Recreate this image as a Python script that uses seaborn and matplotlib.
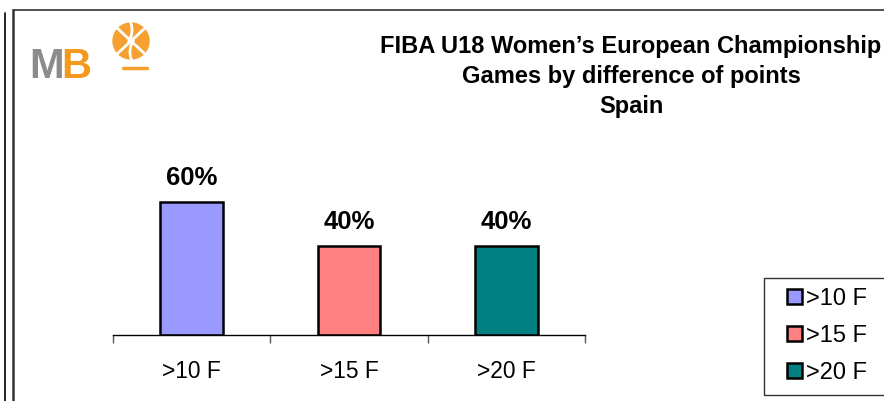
import matplotlib
matplotlib.use("Agg")
import matplotlib.pyplot as plt
import seaborn as sns
import pandas as pd
from matplotlib.lines import Line2D
from matplotlib.patches import Circle, Arc, Rectangle

# datos
categorias = [">10 F", ">15 F", ">20 F"]
valores = [0.60, 0.40, 0.40]
etiquetas = ["60%", "40%", "40%"]
colores = ["#9999ff", "#ff8080", "#008080"]
titulo = "FIBA U18 Women\u2019s European Championship\nGames by difference of points\nSpain"

sns.set_theme(style="white")
plt.rcParams["font.family"] = ["Liberation Sans", "DejaVu Sans"]
plt.rcParams["text.color"] = "black"
plt.rcParams["xtick.color"] = "black"
plt.rcParams["axes.labelcolor"] = "black"

W, H = 884, 401
fig = plt.figure(figsize=(W / 100, H / 100), dpi=100)
fig.patch.set_facecolor("white")

# marcos de la hoja
fig.add_artist(Line2D([4.5 / W, 4.5 / W], [0, 1 - 13 / H], color="black", lw=1.2))
fig.add_artist(Line2D([13 / W, 13 / W], [0, 1 - 10 / H], color="#333333", lw=1.8))
fig.add_artist(Line2D([13 / W, 1], [1 - 10 / H, 1 - 10 / H], color="#333333", lw=1.2))

ax = fig.add_axes([113 / W, (H - 335) / H, 472 / W, 155 / H])
df = pd.DataFrame({"cat": categorias, "val": valores})
sns.barplot(data=df, x="cat", y="val", hue="cat", palette=colores, width=0.4,
            saturation=1, edgecolor="black", linewidth=1.8, ax=ax, legend=True)
ax.set_xlim(-0.5, 2.5)
ax.set_ylim(0, 0.7)
for c, lab in zip(ax.containers, etiquetas):
    ax.bar_label(c, labels=[lab], padding=9, fontsize=18.5, fontweight="bold", color="black")

for s in ["top", "right", "left"]:
    ax.spines[s].set_visible(False)
ax.spines["bottom"].set_color("black")
ax.spines["bottom"].set_linewidth(1.0)
ax.set_yticks([])
ax.set_xticks([-0.5, 0.5, 1.5, 2.5])
ax.set_xticklabels([])
ax.set_xticks([0, 1, 2], minor=True)
ax.set_xticklabels(categorias, minor=True, fontsize=16.4)
ax.tick_params(axis="x", which="major", length=6, width=1, color="#555555", bottom=True)
ax.tick_params(axis="x", which="minor", length=0, pad=18, labelcolor="black")
ax.set_xlabel("")
ax.set_ylabel("")

# leyenda
handles, labels = ax.get_legend_handles_labels()
ax.legend_.remove()
leg = fig.legend(handles, labels, loc="upper left", bbox_to_anchor=(787 / W, 1 - 288 / H),
                 fontsize=17, frameon=False, handlelength=0.62,
                 handleheight=0.62, handletextpad=0.2, labelspacing=0.63,
                 borderpad=0, borderaxespad=0, labelcolor="black")
for p in leg.get_patches():
    p.set_edgecolor("black")
    p.set_linewidth(1.8)
fig.add_artist(Rectangle((764 / W, 1 - 395 / H), 130 / W, 117 / H, transform=fig.transFigure,
                         fill=False, edgecolor="#333333", lw=1.0))

# título
fig.text(631 / W, 1 - 35 / H, titulo, ha="center", va="top", fontsize=17,
         fontweight="bold", linespacing=1.38, color="black")

# logo MB
fig.text(29 / W, 1 - 78 / H, "M", color="#8c8c8c", fontsize=30, fontweight="bold", va="baseline")
fig.text(61 / W, 1 - 78 / H, "B", color="#f39a1e", fontsize=30, fontweight="bold", va="baseline")
lax = fig.add_axes([0, 0, 1, 1], zorder=-1)
lax.set_xlim(0, W)
lax.set_ylim(H, 0)
lax.axis("off")
lax.add_patch(Circle((131, 41), 18, color="#f5a030"))
lax.add_patch(Arc((110, 30), 44, 44, theta1=-35, theta2=35, color="white", lw=2))
lax.add_patch(Arc((152, 52), 44, 44, theta1=145, theta2=215, color="white", lw=2))
lax.add_line(Line2D([117, 145], [28, 54], color="white", lw=2))
lax.add_line(Line2D([117, 145], [54, 28], color="white", lw=2))
lax.add_line(Line2D([123, 147], [68, 68], color="#f5a030", lw=2.5))

fig.savefig("out.png", dpi=100, facecolor="white")
